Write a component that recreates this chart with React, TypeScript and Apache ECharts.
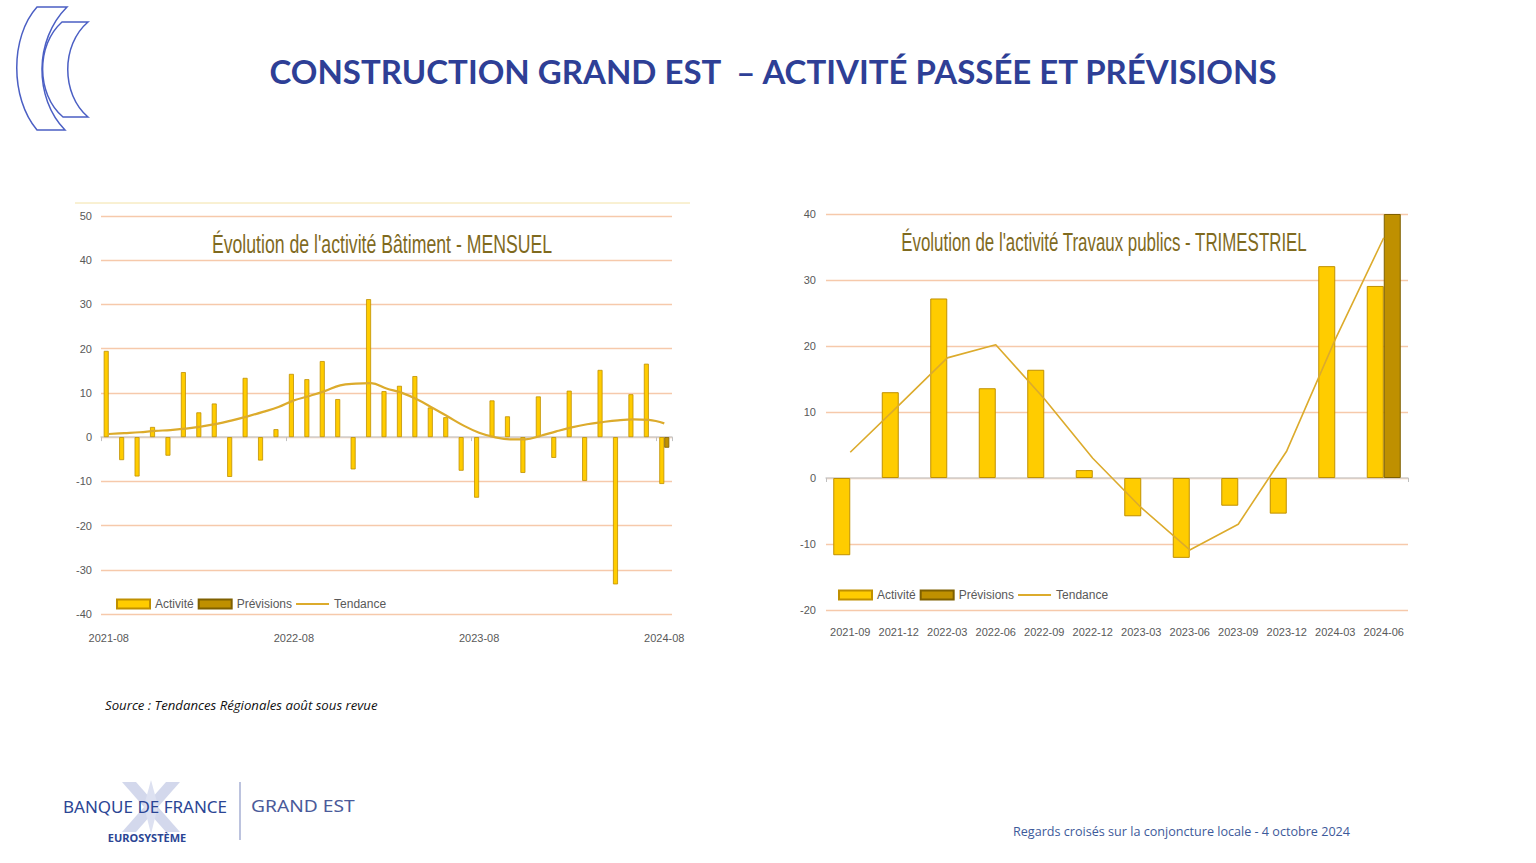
import React, { useEffect, useRef } from "react";
import * as echarts from "echarts";

// ---------- DATA ----------
const moisMensuel = [
  "2021-08", "2021-09", "2021-10", "2021-11", "2021-12", "2022-01", "2022-02", "2022-03", "2022-04", "2022-05", "2022-06", "2022-07",
  "2022-08", "2022-09", "2022-10", "2022-11", "2022-12", "2023-01", "2023-02", "2023-03", "2023-04", "2023-05", "2023-06", "2023-07",
  "2023-08", "2023-09", "2023-10", "2023-11", "2023-12", "2024-01", "2024-02", "2024-03", "2024-04", "2024-05", "2024-06", "2024-07",
  "2024-08",
];
const activiteMensuel = [
  19.5, -5.2, -8.9, 2.3, -4.2, 14.7, 5.6, 7.6, -9.0, 13.4, -5.3, 1.8,
  14.3, 13.1, 17.2, 8.6, -7.3, 31.2, 10.4, 11.6, 13.8, 6.7, 4.5, -7.6,
  -13.7, 8.3, 4.7, -8.1, 9.2, -4.7, 10.5, -9.9, 15.2, -33.3, 9.7, 16.6,
  -10.6,
];
const previsionsMensuel = [
  null, null, null, null, null, null, null, null, null, null, null, null,
  null, null, null, null, null, null, null, null, null, null, null, null,
  null, null, null, null, null, null, null, null, null, null, null, null,
  -2.4,
];
const tendanceMensuel = [
  0.7, 0.9, 1.1, 1.4, 1.6, 1.9, 2.4, 3.0, 3.8, 4.7, 5.7, 6.8,
  8.3, 9.3, 10.4, 11.7, 12.1, 12.2, 11.0, 10.0, 8.5, 6.6, 4.6, 2.6,
  1.0, 0.0, -0.5, -0.5, 0.3, 1.3, 2.2, 2.9, 3.4, 3.8, 4.0, 3.9,
  3.1,
];

const trimestres = ["2021-09", "2021-12", "2022-03", "2022-06", "2022-09", "2022-12", "2023-03", "2023-06", "2023-09", "2023-12", "2024-03", "2024-06"];
const activiteTrim = [-11.7, 13.0, 27.2, 13.6, 16.4, 1.2, -5.8, -12.1, -4.2, -5.4, 32.1, 29.1];
const previsionsTrim = [null, null, null, null, null, null, null, null, null, null, null, 40];
const tendanceTrim = [3.9, 11.0, 18.2, 20.2, 12.0, 3.0, -4.5, -10.9, -7.0, 4.1, 21.0, 36.4];

const titrePage = "CONSTRUCTION GRAND EST  – ACTIVITÉ PASSÉE ET PRÉVISIONS";
const titreGauche = "Évolution de l'activité Bâtiment - MENSUEL";
const titreDroite = "Évolution de l'activité Travaux publics - TRIMESTRIEL";
const sourceTexte = "Source : Tendances Régionales août sous revue";
const piedTexte = "Regards croisés sur la conjoncture locale - 4 octobre 2024";

// ---------- STYLES ----------
const SANS = "'Liberation Sans', Arial, sans-serif";
const JAUNE = "#ffcc00";
const JAUNE_BORD = "#c09000";
const FONCE = "#bf9000";
const FONCE_BORD = "#7f6000";
const TENDANCE = "#dcab2c";
const GRILLE = "#f6c9ab";
const LABEL = "#595959";

const OUTER_D = "M37 7 L67 7 C34 40 34 98 65 130 L37 130 C10 98 10 37 37 7 Z";
const INNER_D = "M62 22 L88 22 C61 45 61 94 88 117 L63 117 C36 94 36 45 62 22 Z";
const LINE_ICON = "path://M0,0L33,0L33,2.2L0,2.2Z";

export default function App() {
  const ref = useRef<HTMLDivElement>(null);

  useEffect(() => {
    if (!ref.current) return;
    echarts.graphic.registerShape("crescentOuter", echarts.graphic.extendPath(OUTER_D, {}));
    echarts.graphic.registerShape("crescentInner", echarts.graphic.extendPath(INNER_D, {}));
    const chart = echarts.init(ref.current, null, { renderer: "svg" });

    const labelAxis = (gridIndex: number, data: string[], interval: number, margin: number) => ({
      type: "category",
      gridIndex,
      data,
      position: "bottom",
      axisLine: { show: false, onZero: false },
      axisTick: { show: false },
      splitLine: { show: false },
      axisLabel: { interval, margin, color: LABEL, fontSize: 11, fontFamily: SANS },
    });
    const zeroAxis = (gridIndex: number, data: string[], interval: number) => ({
      type: "category",
      gridIndex,
      data,
      position: "bottom",
      axisLine: { show: true, onZero: true, lineStyle: { color: "#d0d0d0", width: 1.5 } },
      axisTick: { show: true, interval, length: 4, lineStyle: { color: "#c0c0c0" } },
      axisLabel: { show: false },
      splitLine: { show: false },
    });
    const valueAxis = (gridIndex: number, min: number, max: number, margin: number) => ({
      type: "value",
      gridIndex,
      min,
      max,
      interval: 10,
      axisLine: { show: false },
      axisTick: { show: false },
      axisLabel: { margin, color: LABEL, fontSize: 11, fontFamily: SANS },
      splitLine: { show: true, lineStyle: { color: GRILLE, width: 1.4 } },
    });

    const legendText = { color: LABEL, fontSize: 12, fontFamily: SANS };
    const legendData = [
      { name: "Activité", icon: "rect" },
      { name: "Prévisions", icon: "rect" },
      { name: "Tendance", icon: LINE_ICON },
    ];

    const option: any = {
      animation: false,
      backgroundColor: "#ffffff",
      grid: [
        { left: 101, top: 216, width: 571, height: 398 },
        { left: 826, top: 214, width: 582, height: 396 },
      ],
      xAxis: [
        labelAxis(0, moisMensuel, 11, 18),
        zeroAxis(0, moisMensuel, 11),
        labelAxis(1, trimestres, 0, 16),
        zeroAxis(1, trimestres, 11),
      ],
      yAxis: [valueAxis(0, -40, 50, 9), valueAxis(1, -20, 40, 10)],
      legend: [
        { left: 111, top: 593, itemWidth: 33, itemHeight: 9, itemGap: 4, data: legendData, textStyle: legendText },
        { left: 833, top: 584, itemWidth: 33, itemHeight: 9, itemGap: 4, data: legendData, textStyle: legendText },
      ],
      series: [
        {
          name: "Activité", type: "bar", xAxisIndex: 0, yAxisIndex: 0, data: activiteMensuel,
          barWidth: 5, barGap: "0%",
          itemStyle: { color: JAUNE, borderColor: JAUNE_BORD, borderWidth: 0.8 },
        },
        {
          name: "Prévisions", type: "bar", xAxisIndex: 0, yAxisIndex: 0, data: previsionsMensuel,
          barWidth: 5, barGap: "0%",
          itemStyle: { color: FONCE, borderColor: FONCE_BORD, borderWidth: 0.8 },
        },
        {
          name: "Tendance", type: "line", xAxisIndex: 0, yAxisIndex: 0, data: tendanceMensuel,
          smooth: 0.4, showSymbol: false, symbol: "none",
          lineStyle: { color: TENDANCE, width: 2.2 }, itemStyle: { color: TENDANCE }, z: 5,
        },
        {
          name: "Activité", type: "bar", xAxisIndex: 2, yAxisIndex: 1, data: activiteTrim,
          barWidth: 17, barGap: "0%",
          itemStyle: { color: JAUNE, borderColor: JAUNE_BORD, borderWidth: 1 },
        },
        {
          name: "Prévisions", type: "bar", xAxisIndex: 2, yAxisIndex: 1, data: previsionsTrim,
          barWidth: 17, barGap: "0%",
          itemStyle: { color: FONCE, borderColor: FONCE_BORD, borderWidth: 1 },
        },
        {
          name: "Tendance", type: "line", xAxisIndex: 2, yAxisIndex: 1, data: tendanceTrim,
          smooth: false, showSymbol: false, symbol: "none",
          lineStyle: { color: TENDANCE, width: 1.6 }, itemStyle: { color: TENDANCE }, z: 5,
        },
      ],
      graphic: [
        // logo top-left
        { type: "crescentOuter", x: 0, y: 0, style: { fill: "none", stroke: "#4b5fc4", lineWidth: 1.5 } },
        { type: "crescentInner", x: 0, y: 0, style: { fill: "none", stroke: "#4b5fc4", lineWidth: 1.5 } },
        // main title
        {
          type: "text", x: 773, y: 71,
          style: { text: titrePage, fill: "#2e3f96", font: "bold 33px Lato, 'Open Sans', sans-serif", textAlign: "center", textVerticalAlign: "middle" },
        },
        // left chart top border
        { type: "line", shape: { x1: 75, y1: 203, x2: 690, y2: 203 }, style: { stroke: "#f3e2a6", lineWidth: 1 } },
        // chart titles (narrow look)
        {
          type: "text", x: 382, y: 244, z: 10, scaleX: 0.68,
          style: { text: titreGauche, fill: "#7f6a1e", font: `26px ${SANS}`, textAlign: "center", textVerticalAlign: "middle" },
        },
        {
          type: "text", x: 1104, y: 242, z: 10, scaleX: 0.65,
          style: { text: titreDroite, fill: "#7f6a1e", font: `26px ${SANS}`, textAlign: "center", textVerticalAlign: "middle" },
        },
        // source
        {
          type: "text", x: 105, y: 705,
          style: { text: sourceTexte, fill: "#111111", font: "italic 13.2px 'Open Sans', sans-serif", textAlign: "left", textVerticalAlign: "middle" },
        },
        // Banque de France emblem
        { type: "polygon", shape: { points: [[122, 782], [136, 782], [180, 832], [166, 832]] }, style: { fill: "#d3d8ec" } },
        { type: "polygon", shape: { points: [[166, 782], [180, 782], [136, 832], [122, 832]] }, style: { fill: "#d3d8ec" } },
        { type: "polygon", shape: { points: [[151, 780], [158, 806], [151, 834], [144, 806]] }, style: { fill: "#dde1f1" } },
        {
          type: "text", x: 63, y: 806,
          style: { text: "BANQUE DE FRANCE", fill: "#2b4594", font: "17px 'Noto Sans', sans-serif", textAlign: "left", textVerticalAlign: "middle" },
        },
        {
          type: "text", x: 147, y: 837,
          style: { text: "EUROSYSTÈME", fill: "#2b4594", font: "bold 11px 'Noto Sans', sans-serif", textAlign: "center", textVerticalAlign: "middle" },
        },
        { type: "line", shape: { x1: 240, y1: 782, x2: 240, y2: 840 }, style: { stroke: "#8f9bc8", lineWidth: 1.2 } },
        {
          type: "text", x: 251, y: 806, scaleX: 1.2,
          style: { text: "GRAND EST", fill: "#4a5a9a", font: "16px 'Noto Sans', sans-serif", textAlign: "left", textVerticalAlign: "middle" },
        },
        // footer
        {
          type: "text", x: 1013, y: 831,
          style: { text: piedTexte, fill: "#3d5a9a", font: "12.6px 'Open Sans', sans-serif", textAlign: "left", textVerticalAlign: "middle" },
        },
      ],
    };

    chart.setOption(option);
    return () => chart.dispose();
  }, []);

  return (
    <div
      ref={ref}
      style={{ position: "fixed", left: 0, top: 0, width: 1536, height: 863, background: "#ffffff" }}
    />
  );
}
